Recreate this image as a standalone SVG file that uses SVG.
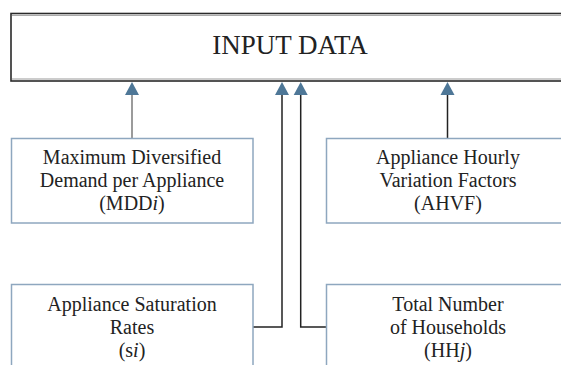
<svg xmlns="http://www.w3.org/2000/svg" width="561" height="365" viewBox="0 0 561 365">
<defs>
<style>
.t{font-family:"Liberation Serif","Times New Roman",serif;fill:#222;text-anchor:middle}
.box{fill:#fff;stroke:#8ea7bf;stroke-width:1.5}
.main{fill:#fff;stroke:#2a2a2a;stroke-width:1.6}
.ln{fill:none;stroke:#222;stroke-width:1.5}
.head{fill:#4e7797}
</style>
</defs>
<rect width="561" height="365" fill="#fff"/>
<g id="input-data">
<rect class="main" x="11" y="13.5" width="560" height="67.5"/>
<line x1="12" y1="15.5" x2="561" y2="15.5" stroke="#aaa" stroke-width="1"/>
<line x1="12" y1="79" x2="561" y2="79" stroke="#999" stroke-width="1"/>
<text class="t" x="290" y="53.5" font-size="27">INPUT DATA</text>
</g>
<g id="connectors">
<line x1="132" y1="95" x2="132" y2="138" stroke="#7a7a7a" stroke-width="1.5"/>
<line class="ln" x1="447.5" y1="95" x2="447.5" y2="138"/>
<polyline class="ln" points="282,95 282,327 253,327"/>
<polyline class="ln" points="300.7,95 300.7,327 326,327"/>
<polygon class="head" points="132,82 125,95 139,95"/>
<polygon class="head" points="282,82 275,95 289,95"/>
<polygon class="head" points="300.7,82 293.7,95 307.7,95"/>
<polygon class="head" points="447.5,82 440.5,95 454.5,95"/>
</g>
<g id="mdd">
<rect class="box" x="11.5" y="138.5" width="241.5" height="84.5"/>
<text class="t" font-size="20" x="132" y="164">Maximum Diversified</text>
<text class="t" font-size="20" x="132" y="187">Demand per Appliance</text>
<text class="t" font-size="20" x="132" y="210">(MDD<tspan font-style="italic">i</tspan>)</text>
</g>
<g id="ahvf">
<rect class="box" x="326.5" y="138.5" width="242" height="84.5"/>
<text class="t" font-size="20" x="448" y="164">Appliance Hourly</text>
<text class="t" font-size="20" x="448" y="187">Variation Factors</text>
<text class="t" font-size="20" x="448" y="210">(AHVF)</text>
</g>
<g id="saturation">
<rect class="box" x="11.5" y="284.5" width="241.5" height="90"/>
<text class="t" font-size="20" x="132" y="311">Appliance Saturation</text>
<text class="t" font-size="20" x="132" y="334">Rates</text>
<text class="t" font-size="20" x="132" y="357">(s<tspan font-style="italic">i</tspan>)</text>
</g>
<g id="households">
<rect class="box" x="326.5" y="284.5" width="242" height="90"/>
<text class="t" font-size="20" x="448" y="311">Total Number</text>
<text class="t" font-size="20" x="448" y="334">of Households</text>
<text class="t" font-size="20" x="448" y="357">(HH<tspan font-style="italic">j</tspan>)</text>
</g>
</svg>
